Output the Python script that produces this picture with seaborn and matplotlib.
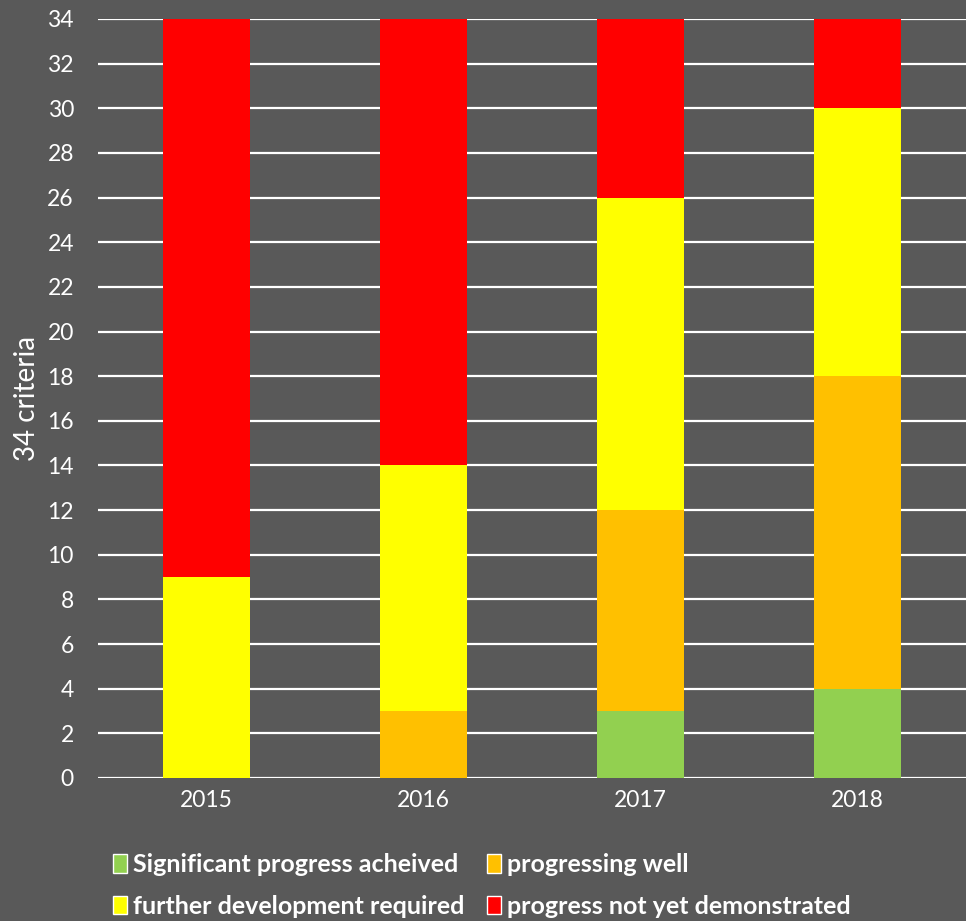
import matplotlib
matplotlib.use("Agg")
import matplotlib.pyplot as plt
from matplotlib.patches import Patch
import pandas as pd
import seaborn as sns

years = ["2015", "2016", "2017", "2018"]
significant = [0, 0, 3, 4]
progressing = [0, 3, 9, 14]
further = [9, 11, 14, 12]
not_yet = [25, 20, 8, 4]

labels = ["Significant progress acheived", "progressing well",
          "further development required", "progress not yet demonstrated"]
colors = ["#92D050", "#FFC000", "#FFFF00", "#FF0000"]
bg = "#595959"

sns.set_style("dark")
plt.rcParams["font.family"] = ["Lato", "DejaVu Sans"]

df = pd.DataFrame({"year": years, "g": significant, "o": progressing,
                   "y": further, "r": not_yet})
df["c_g"] = df["g"]
df["c_o"] = df["c_g"] + df["o"]
df["c_y"] = df["c_o"] + df["y"]
df["c_r"] = df["c_y"] + df["r"]

fig = plt.figure(figsize=(9.66, 9.21), dpi=100, facecolor=bg)
ax = fig.add_axes([0.101, 0.1553, 0.899, 0.8241], facecolor=bg)

# stacked bars drawn as overlapping cumulative totals
for col, color in zip(["c_r", "c_y", "c_o", "c_g"], colors[::-1]):
    sns.barplot(data=df, x="year", y=col, color=color, width=0.4,
                saturation=1, ax=ax, zorder=3, linewidth=0, edgecolor=color)

ax.set_ylim(0, 34)
ax.set_xlim(-0.5, 3.5)
ax.set_yticks(range(0, 35, 2))
ax.yaxis.grid(True, color="white", linewidth=1.6, zorder=0)
ax.xaxis.grid(False)
ax.set_axisbelow(True)
for s in ax.spines.values():
    s.set_visible(False)
ax.tick_params(axis="both", colors="white", labelsize=16.5, length=0, pad=9)
ax.tick_params(axis="y", pad=17)
ax.set_xlabel("")
ax.set_ylabel("34 criteria", color="white", fontsize=20)
ax.yaxis.set_label_coords(-0.066, 0.5)

handles = [Patch(facecolor=c) for c in colors]
order = [0, 2, 1, 3]
fig.legend([handles[i] for i in order], [labels[i] for i in order],
           loc="upper left", bbox_to_anchor=(0.094, 0.098), ncol=2,
           frameon=False, handlelength=0.55, handleheight=0.75,
           handletextpad=0.25, columnspacing=0.9, labelspacing=0.75,
           prop={"weight": "bold", "size": 18}, labelcolor="white")

fig.savefig("out.png", dpi=100, facecolor=bg)
